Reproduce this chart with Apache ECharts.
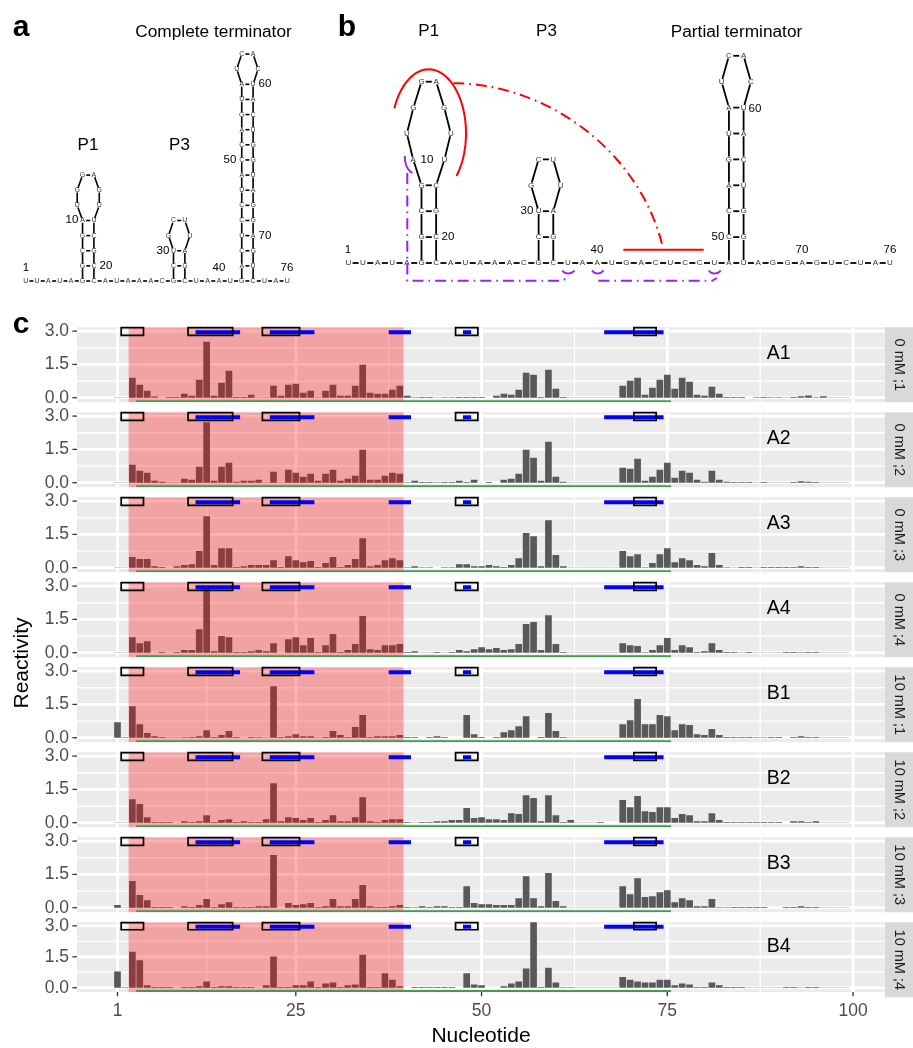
<!DOCTYPE html>
<html>
<head>
<meta charset="utf-8">
<style>html,body{margin:0;padding:0;background:#fff}#c{width:913px;height:1048px}</style>
<script src="https://cdn.jsdelivr.net/npm/echarts@6/dist/echarts.min.js"></script>
</head>
<body>
<div id="c"></div>
<script>
// ---------- Reactivity per nucleotide (position 1..99) ----------
const A1 = [
 .01,.01,.9,.58,.31,.05,0,.03,.03,.18,
 .09,.81,2.52,.09,.67,1.21,.03,.03,.13,.01,
 .01,.54,.09,.58,.63,.22,.31,.01,.31,.58,
 .09,.09,.54,1.48,.22,.18,.18,.36,.54,.09,
 .02,.03,.03,.01,.02,.02,.03,.03,.03,.03,
 0,.09,.18,.13,.36,1.12,1.03,.03,1.26,.40,
 .03,.01,.01,.01,.01,.01,.01,.01,.54,.76,
 .9,.13,.45,.81,1.03,.40,.9,.72,.13,.09,
 .49,.18,.03,.03,.03,0,.02,.03,.02,.02,
 .01,.03,.06,.1,.02,.07,.01,.01,.01];
const A2 = [
 .01,.01,.81,.54,.45,.09,.04,.01,.01,.18,
 .13,.72,2.72,.09,.72,.9,.04,.09,.09,.13,
 .01,.49,.01,.58,.45,.27,.40,.09,.40,.58,
 .09,.18,.31,1.48,.13,.13,.31,.45,.40,.02,
 .09,.03,.03,.02,.03,.03,.09,.03,.13,0,
 .03,0,.13,.18,.40,1.48,1.12,.09,1.84,.27,
 .04,.01,.01,.01,.01,.01,.01,.01,.67,.63,
 1.08,.09,.27,.58,.9,.22,.54,.45,.13,.04,
 .54,.13,.04,.03,.03,.03,.01,.03,.01,.01,
 .01,.03,.07,.04,.03,.01,.01,.01,.01];
const A3 = [
 .01,.01,.48,.39,.39,.07,.03,0,.07,.12,
 .16,.75,2.32,.12,.88,.88,.03,.07,.12,.12,
 .12,.34,.03,.52,.34,.25,.30,.03,.21,.48,
 .03,.12,.39,1.33,.07,.12,.34,.43,.34,.02,
 .07,.02,.02,0,.02,.02,.16,.16,.07,.07,
 .12,.07,.03,.12,.43,1.56,1.42,.07,2.14,.57,
 .07,.01,.01,.01,.01,.01,.01,.01,.75,.52,
 .61,.02,.21,.61,.88,.25,.43,.34,.12,.07,
 .66,.12,.02,.01,.03,.03,.01,.03,.03,.03,
 .03,.03,.07,.03,.03,.01,.01,.01,.01];
const A4 = [
 .01,.01,.70,.43,.52,0,.03,0,.03,.12,
 .12,1.06,2.9,.07,.75,.70,.03,.03,.07,.12,
 .07,.43,0,.61,.70,.34,.66,.03,.34,.84,
 .03,.12,.39,1.65,.16,.12,.34,.34,.39,.03,
 .07,.01,.01,.03,.01,.03,.12,.07,.16,.25,
 .16,.21,.12,.16,.39,1.29,1.38,.12,1.69,.39,
 .03,.01,.01,.01,.01,.01,.01,.01,.43,.34,
 .30,.02,.12,.34,.66,.12,.34,.25,.03,.07,
 .43,.12,.03,.03,.01,.03,.01,.01,.01,.01,
 .03,.03,.02,.03,.03,.01,.01,.01,.01];
const B1 = [
 .70,.02,1.42,.61,.21,.07,.03,.01,.01,.02,
 .03,.07,.34,.03,.12,.30,.03,0,.03,.02,
 .01,2.32,.03,.07,.16,.07,.07,.01,.03,.30,
 .12,.03,.48,1.02,.03,.07,.07,.07,.12,.03,
 .03,0,.03,.07,.03,0,0,1.02,.16,.03,
 0,.03,.25,.34,.52,.97,0,.03,1.11,.30,
 .03,.01,.01,.01,.01,.01,.01,.01,.61,.79,
 1.74,.61,.61,1.02,.97,.34,.61,.57,.16,.12,
 .39,.12,.03,.03,.03,.03,.02,.02,.03,.03,
 0,.03,.07,.03,.03,.01,.01,.01,.01];
const B2 = [
 .01,.01,1.06,.84,.25,.03,.03,.03,0,.07,
 .03,.07,.34,.03,.12,.16,.03,.07,.03,.03,
 .16,1.78,.07,.25,.21,.12,.21,.03,.12,.34,
 .07,.07,.25,1.15,.07,.03,.12,.16,.16,.03,
 .01,.03,.03,.07,.07,.12,.12,.66,.21,.25,
 .16,.16,.12,.43,.39,1.24,1.11,.07,1.24,.34,
 .03,.12,.01,.01,.01,.03,0,0,1.02,.70,
 1.2,.52,.48,.70,.70,.21,.39,.34,.07,.07,
 .43,.12,.03,.03,.03,.03,.03,.03,.03,.03,
 0,.07,.07,.03,.07,.01,.01,.01,.01];
const B3 = [
 .12,.01,1.2,.57,.34,.03,.03,.03,0,.07,
 .03,.12,.39,.03,.16,.25,.03,.03,.03,.07,
 .07,2.37,0,.21,.12,.16,.21,.03,.07,.39,
 .07,.07,.39,1.02,.07,.03,.03,.07,.12,.03,
 .02,.07,.03,.07,.07,.03,.03,.97,.21,.16,
 .16,.12,.12,.12,.43,1.42,.43,.07,1.56,.30,
 .07,.01,.01,.01,.01,.01,.01,.01,.97,.61,
 1.33,.48,.52,.70,.79,.25,.43,.34,.07,.07,
 .39,.02,.02,.03,.03,.03,.03,.03,0,0,
 .03,.03,.07,.03,.03,.01,.01,.01,.01];
const B4 = [
 .79,.02,1.74,1.33,.12,.03,.03,.03,0,.03,
 .03,.07,.30,.03,.07,.07,.03,.03,.03,0,
 .12,1.51,.03,.03,.12,.12,.30,.03,.21,.25,
 .03,.12,.16,1.60,.03,.03,.70,.39,.07,0,
 .03,.03,.03,.03,.03,.03,0,.70,.16,.12,
 0,0,.07,.21,.30,.93,3.18,.03,.97,.25,
 .02,.02,.01,.01,.01,.01,.01,.01,.52,.39,
 .30,.25,.25,.39,.39,.12,.21,.16,.03,.03,
 .25,.12,.03,.03,.03,.01,.01,.01,.01,.01,
 .03,.03,.01,.03,.03,.01,.01,.01,.01];
const seriesValues = [A1,A2,A3,A4,B1,B2,B3,B4];
const panelNames = ['A1','A2','A3','A4','B1','B2','B3','B4'];
const stripLabels = ['0 mM ;1','0 mM ;2','0 mM ;3','0 mM ;4','10 mM ;1','10 mM ;2','10 mM ;3','10 mM ;4'];
const xMajor = [1,25,50,75,100];
const xMinor = [13,37.5,62.5,87.5];
const yMajor = [0,1.5,3];
const yMinor = [.75,2.25];
const redZone = [2.5,39.5];
const boxRanges = [[1.5,4.5],[10.5,16.5],[20.5,25.5],[46.5,49.5],[70.5,73.5]];
const blueRanges = [[11.5,17.5],[21.5,27.5],[37.5,40.5],[47.5,48.6],[66.5,74.5]];
const greenRange = [3.5,75.5];

// ---------- RNA secondary structures ----------
const complete = {
  base:'UUAUAGCAUAAACGCUAAUGCUAU',
  stems:[
    {at:5, pairs:['GC','CG','GC','AU'], left:[['U',-.47],['G',-.47],['G',0]], right:[['U',.47],['G',.47],['A',0]]},
    {at:13, pairs:['CG','UA'], left:[['G',-.44],['C',0]], right:[['U',.44],['U',0]]},
    {at:19, pairs:['AU','CG','UA','CG','CG','UA','AU','CG','CG','AU','GC','UA','AU'], left:[['U',-.44],['C',0]], right:[['C',.44],['A',0]]}
  ]};
const partial = {
  base:'UUAUAGCAUAAACGCUAAUGACUCCUAUAGGAGUCUAU',
  stems:[
    {at:5, pairs:['GC','CG','GC'], left:[['A',-.57],['U',-1],['G',-.55],['G',0]], right:[['U',.57],['U',1],['G',.55],['A',0]]},
    {at:13, pairs:['CG','UA'], left:[['G',-.52],['C',0]], right:[['U',.5],['U',0]]},
    {at:26, pairs:['CG','CG','AU','GC','UA','AU'], left:[['U',-.5],['C',0]], right:[['C',.5],['A',0]]}
  ]};
const completeNumbers = [['1',26,268],['10',72,220],['20',106,266],['30',163,251],['40',219,268],['50',230,160],['60',265,84],['70',265,236],['76',287,268]];
const partialNumbers = [['1',348,250],['10',427,160],['20',448,237],['30',527,211],['40',597,250],['50',718,237],['60',755,109],['70',802,250],['76',890,250]];
const layoutA = {x0:25.7, y0:281, dx:11.37, dy:15.13, gapH:3.7, gapV:2.3, lw:1.6, fs:7};
const layoutB = {x0:348.3, y0:263, dx:14.64, dy:25.9, gapH:4.3, gapV:2.8, lw:1.8, fs:8};

const bonds = [], letters = [];
function bond(a,b,L){
  const d=Math.hypot(b[0]-a[0],b[1]-a[1]), ux=(b[0]-a[0])/d, uy=(b[1]-a[1])/d;
  const gap=Math.abs(uy)<.01?L.gapH:L.gapV;
  bonds.push([a[0]+ux*gap,a[1]+uy*gap,b[0]-ux*gap,b[1]-uy*gap,L.lw]);
}
function letter(p,ch,L){ letters.push([p[0],p[1],ch,L.fs]); return p; }
function buildStructure(S,L){
  let prev=null;
  [...S.base].forEach((ch,i)=>{
    const p=letter([L.x0+i*L.dx,L.y0],ch,L);
    if(prev) bond(prev,p,L);
    prev=p;
  });
  S.stems.forEach(st=>{
    const xl=L.x0+st.at*L.dx, xr=xl+L.dx;
    let pl=[xl,L.y0], pr=[xr,L.y0], row=1;
    st.pairs.forEach(pair=>{
      const y=L.y0-row*L.dy;
      const nl=letter([xl,y],pair[0],L), nr=letter([xr,y],pair[1],L);
      bond(pl,nl,L); bond(pr,nr,L); bond(nl,nr,L);
      pl=nl; pr=nr; row++;
    });
    st.left.forEach((n,k)=>{
      const y=L.y0-(row+k)*L.dy;
      const nl=letter([xl+n[1]*L.dx,y],n[0],L);
      const r=st.right[k];
      const nr=letter([xr+r[1]*L.dx,y],r[0],L);
      bond(pl,nl,L); bond(pr,nr,L);
      pl=nl; pr=nr;
    });
    bond(pl,pr,L);
  });
}
buildStructure(complete,layoutA);
buildStructure(partial,layoutB);

// Contact annotations on the partial terminator
function sampleEllipse(cx,cy,rx,ry,a0,a1,n){
  const out=[];
  for(let k=0;k<=n;k++){const a=a0+(a1-a0)*k/n; out.push([cx+rx*Math.sin(a),cy-ry*Math.cos(a)]);}
  return out;
}
function sampleBezier(p0,p1,p2,p3,n){
  const out=[];
  for(let k=0;k<=n;k++){const t=k/n,u=1-t;
    out.push([u*u*u*p0[0]+3*u*u*t*p1[0]+3*u*t*t*p2[0]+t*t*t*p3[0],
              u*u*u*p0[1]+3*u*u*t*p1[1]+3*u*t*t*p2[1]+t*t*t*p3[1]]);}
  return out;
}
const redArc = sampleEllipse(428.7,133.3,37.3,64,-1.17,2.3,50);
const redDash = sampleBezier([453.3,83.3],[545,83],[640,150],[663,248],50);
const redBar = [[623.3,249.7],[703.7,249.7]];
const purpleA = [[407.3,173],[407.3,280.8],[562,280.8],[567,278]];
const purpleB = [[598.3,280.8],[712,280.8],[717,278]];
const smile1 = sampleBezier([404.7,156],[405,164],[407,170],[412.5,173],12);
const smile2 = sampleBezier([562.3,270.5],[565,274.5],[571,274.5],[574.5,270.5],10);
const smile3 = sampleBezier([592,270.5],[595,274.5],[600,274.5],[603.5,270.5],10);
const smile4 = sampleBezier([708.7,270.5],[711.5,274.5],[717.5,274.5],[720.7,270.5],10);

// ---------- Chart ----------
const FONT='"Liberation Sans",Helvetica,Arial,sans-serif';
const panelTop=i=>327.3+85*i, panelH=75, panelLeft=77, panelW=808;
const yMin=-0.207, yMax=3.171, xMin=-4.45, xMax=104.3;
const BAR_WIDTH=0.9;
const tickX=4.6/7.43, tickY=4.6/22.2;

function segSeries(i,segs,color,width,z,clip){
  return {type:'custom',xAxisIndex:i,yAxisIndex:i,z,clip:clip!==false,silent:true,animation:false,
    encode:{x:[0,2],y:[1,3]},data:segs,
    renderItem:(p,api)=>{
      const a=api.coord([api.value(0),api.value(1)]), b=api.coord([api.value(2),api.value(3)]);
      return {type:'line',shape:{x1:a[0],y1:a[1],x2:b[0],y2:b[1]},style:{stroke:color,lineWidth:width}};
    }};
}
function rectSeries(i,rects,style,z,clip){
  return {type:'custom',xAxisIndex:i,yAxisIndex:i,z,clip:clip!==false,silent:true,animation:false,
    encode:{x:[0,2],y:[1,3]},data:rects,
    renderItem:(p,api)=>{
      const a=api.coord([api.value(0),api.value(1)]), b=api.coord([api.value(2),api.value(3)]);
      return {type:'rect',shape:{x:a[0],y:b[1],width:b[0]-a[0],height:a[1]-b[1]},style};
    }};
}
const grids=[],xAxes=[],yAxes=[],series=[];
seriesValues.forEach((vals,i)=>{
  grids.push({left:panelLeft,top:panelTop(i),width:panelW,height:panelH,show:true,backgroundColor:'#EBEBEB',borderWidth:0});
  xAxes.push({type:'value',gridIndex:i,min:xMin,max:xMax,splitLine:{show:false},
    axisLine:{show:false},axisTick:{show:false},
    axisLabel:{show:i===7,customValues:xMajor,color:'#4D4D4D',fontSize:17.5,fontFamily:FONT,margin:10,formatter:v=>String(v)},
    name:i===7?'Nucleotide':'',nameLocation:'middle',nameGap:34,nameTextStyle:{color:'#000',fontSize:21,fontFamily:FONT}});
  yAxes.push({type:'value',gridIndex:i,min:yMin,max:yMax,splitLine:{show:false},
    axisLine:{show:false},axisTick:{show:false},
    axisLabel:{show:true,customValues:yMajor,color:'#4D4D4D',fontSize:17.5,fontFamily:FONT,margin:8,padding:[2,0,0,0],formatter:v=>v.toFixed(1)}});
  // grid lines
  series.push(segSeries(i,xMinor.map(x=>[x,yMin,x,yMax]),'#fff',1.3,1));
  series.push(segSeries(i,yMinor.map(y=>[xMin,y,xMax,y]),'#fff',1.3,1));
  series.push(segSeries(i,xMajor.map(x=>[x,yMin,x,yMax]),'#fff',2.8,1));
  series.push(segSeries(i,yMajor.map(y=>[xMin,y,xMax,y]),'#fff',2.8,1));
  // tick marks
  series.push(segSeries(i,yMajor.map(y=>[xMin-tickX,y,xMin,y]),'#333',1.3,1,false));
  if(i===7) series.push(segSeries(i,xMajor.map(x=>[x,yMin-tickY,x,yMin]),'#333',1.3,1,false));
  // bars
  series.push({type:'custom',xAxisIndex:i,yAxisIndex:i,z:2,clip:true,silent:true,animation:false,
    encode:{x:0,y:1},data:vals.map((v,k)=>[k+1,v]),
    renderItem:(p,api)=>{
      const t=api.coord([api.value(0),api.value(1)]), b=api.coord([api.value(0),0]);
      const w=api.size([BAR_WIDTH,0])[0];
      return {type:'rect',shape:{x:t[0]-w/2,y:t[1],width:w,height:b[1]-t[1]},style:{fill:'#595959'}};
    }});
  // red region, blue segments, boxes, green line
  series.push(rectSeries(i,[[redZone[0],yMin,redZone[1],yMax]],{fill:'rgba(255,0,0,0.31)'},3));
  series.push(segSeries(i,blueRanges.map(r=>[r[0],2.95,r[1],2.95]),'#0000FF',4,4));
  series.push(rectSeries(i,boxRanges.map(r=>[r[0],2.81,r[1],3.16]),{fill:'none',stroke:'#000',lineWidth:1.7},5,false));
  series.push(segSeries(i,[[greenRange[0],-0.16,greenRange[1],-0.16]],'#3E9E50',2.2,5));
  // sample label
  series.push({type:'custom',xAxisIndex:i,yAxisIndex:i,z:6,silent:true,animation:false,clip:false,data:[[90,2]],
    encode:{x:0,y:1},
    renderItem:(p,api)=>{const c=api.coord([api.value(0),api.value(1)]);
      return {type:'text',style:{text:panelNames[i],x:c[0],y:c[1],fill:'#000',align:'center',verticalAlign:'middle',font:'19.5px '+FONT}};}});
});
// Whole-canvas coordinate system for the structure diagrams
grids.push({left:0,top:0,width:913,height:1048,show:false});
xAxes.push({type:'value',gridIndex:8,min:0,max:913,show:false});
yAxes.push({type:'value',gridIndex:8,min:0,max:1048,inverse:true,show:false});
series.push({type:'custom',xAxisIndex:8,yAxisIndex:8,z:7,silent:true,animation:false,clip:false,
  encode:{x:[0,2],y:[1,3]},data:bonds,
  renderItem:(p,api)=>{
    const a=api.coord([api.value(0),api.value(1)]), b=api.coord([api.value(2),api.value(3)]);
    return {type:'line',shape:{x1:a[0],y1:a[1],x2:b[0],y2:b[1]},style:{stroke:'#000',lineWidth:api.value(4)}};
  }});
series.push({type:'custom',xAxisIndex:8,yAxisIndex:8,z:8,silent:true,animation:false,clip:false,
  encode:{x:0,y:1},dimensions:['x','y',{name:'ch',type:'ordinal'},'fs'],data:letters,
  renderItem:(p,api)=>{
    const c=api.coord([api.value(0),api.value(1)]), d=letters[p.dataIndex];
    return {type:'text',style:{text:d[2],x:c[0],y:c[1],fill:'#333',align:'center',verticalAlign:'middle',font:d[3]+'px '+FONT}};
  }});
function polySeries(points,color,width,dash,z){
  return {type:'custom',xAxisIndex:8,yAxisIndex:8,z:z||9,silent:true,animation:false,clip:false,
    encode:{x:0,y:1},data:points,
    renderItem:(p,api)=>{
      if(p.dataIndex!==0) return null;
      return {type:'polyline',shape:{points:points.map(q=>api.coord(q))},
        style:{stroke:color,fill:'none',lineWidth:width,lineDash:dash||null,lineCap:'butt'}};
    }};
}
const DASHDOT=[11,5,1.6,5];
series.push(polySeries(redArc,'#FF0000',2));
series.push(polySeries(redDash,'#FF0000',2,DASHDOT));
series.push(polySeries(redBar,'#FF0000',2));
series.push(polySeries(purpleA,'#A020F0',2,DASHDOT));
series.push(polySeries(purpleB,'#A020F0',2,DASHDOT));
[smile1,smile2,smile3,smile4].forEach(s=>series.push(polySeries(s,'#A020F0',1.9)));

const gtext=(text,x,y,font,opts)=>Object.assign({type:'text',x,y,silent:true,z:20,
  style:{text,font,fill:'#000',align:'center',verticalAlign:'middle'}},opts||{});
const graphics=[
  gtext('a',21,28,'bold 30px '+FONT),
  gtext('b',347,28,'bold 30px '+FONT),
  gtext('c',21,325,'bold 30px '+FONT),
  gtext('Complete terminator',213.5,32,'17.3px '+FONT),
  gtext('P1',88,145,'17px '+FONT),
  gtext('P3',179.5,145,'17px '+FONT),
  gtext('P1',428.7,31.5,'17px '+FONT),
  gtext('P3',546.5,31.5,'17px '+FONT),
  gtext('Partial terminator',736.5,32,'17.3px '+FONT),
  gtext('Reactivity',22,663,'21px '+FONT,{rotation:Math.PI/2})
];
completeNumbers.concat(partialNumbers).forEach(n=>graphics.push(gtext(n[0],n[1],n[2],'11.5px '+FONT)));
stripLabels.forEach((t,i)=>{
  graphics.push({type:'rect',silent:true,z:10,shape:{x:885,y:panelTop(i),width:28,height:panelH},style:{fill:'#D9D9D9'}});
  graphics.push(gtext(t,899,panelTop(i)+panelH/2,'14.5px '+FONT,{rotation:-Math.PI/2,style:{text:t,font:'14.5px '+FONT,fill:'#1A1A1A',align:'center',verticalAlign:'middle'}}));
});

const chart=echarts.init(document.getElementById('c'),null,{width:913,height:1048,renderer:'canvas'});
chart.setOption({animation:false,backgroundColor:'#fff',tooltip:{show:false},grid:grids,xAxis:xAxes,yAxis:yAxes,series,graphic:{elements:graphics}});
</script>
</body>
</html>
